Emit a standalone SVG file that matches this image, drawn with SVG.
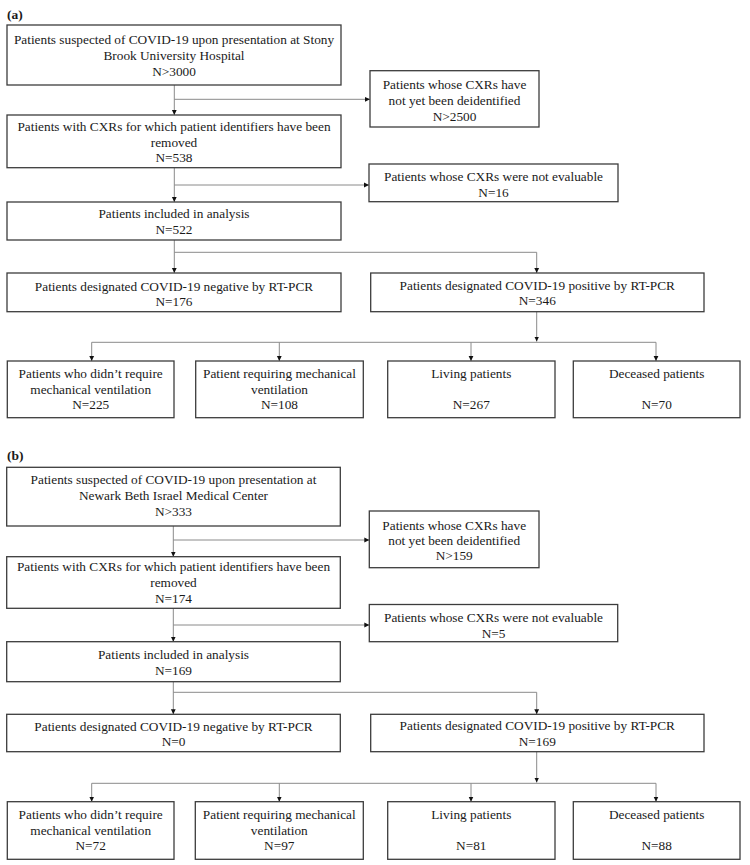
<svg xmlns="http://www.w3.org/2000/svg" width="750" height="865" viewBox="0 0 750 865">
<style>
.bx{fill:#fff;stroke:#3c3c3c;stroke-width:1.3}
.t{font-family:"Liberation Serif","Times New Roman",serif;font-size:13.3px;fill:#1a1a1a;text-anchor:middle}
.h{font-family:"Liberation Serif","Times New Roman",serif;font-size:13.5px;font-weight:bold;fill:#1a1a1a}
.c{fill:none;stroke:#8a8a8a;stroke-width:1}
</style>
<defs>
<marker id="ar" markerUnits="userSpaceOnUse" markerWidth="6" markerHeight="6" refX="5" refY="3" orient="auto">
<path d="M0,0.6 L5,3 L0,5.4 Z" fill="#111"/>
</marker>
</defs>
<rect width="750" height="865" fill="#fff"/>
<text class="h" x="7" y="18.5">(a)</text>
<text class="h" x="7" y="459.5">(b)</text>
<g id="connectors">
<path class="c" d="M174.3,85 V115" marker-end="url(#ar)"/>
<path class="c" d="M174.3,99.3 H370" marker-end="url(#ar)"/>
<path class="c" d="M174.3,167.7 V202" marker-end="url(#ar)"/>
<path class="c" d="M174.3,185 H369" marker-end="url(#ar)"/>
<path class="c" d="M174.3,240 V273" marker-end="url(#ar)"/>
<path class="c" d="M174.3,252.3 H536.7 V273" marker-end="url(#ar)"/>
<path class="c" d="M536.7,311.7 V341.5" marker-end="url(#ar)"/>
<path class="c" d="M91.7,342.3 H656"/>
<path class="c" d="M91.7,342.3 V361" marker-end="url(#ar)"/>
<path class="c" d="M279.3,342.3 V361" marker-end="url(#ar)"/>
<path class="c" d="M471,342.3 V361" marker-end="url(#ar)"/>
<path class="c" d="M656,342.3 V361" marker-end="url(#ar)"/>
<path class="c" d="M173.3,526 V556.7" marker-end="url(#ar)"/>
<path class="c" d="M173.3,540 H369.3" marker-end="url(#ar)"/>
<path class="c" d="M173.3,608.3 V641.7" marker-end="url(#ar)"/>
<path class="c" d="M173.3,625 H369.3" marker-end="url(#ar)"/>
<path class="c" d="M173.3,681.7 V714.3" marker-end="url(#ar)"/>
<path class="c" d="M173.3,692.3 H536.7 V714.3" marker-end="url(#ar)"/>
<path class="c" d="M536.7,751.7 V782.5" marker-end="url(#ar)"/>
<path class="c" d="M91.7,783.3 H656"/>
<path class="c" d="M91.7,783.3 V801.7" marker-end="url(#ar)"/>
<path class="c" d="M279.3,783.3 V801.7" marker-end="url(#ar)"/>
<path class="c" d="M471,783.3 V801.7" marker-end="url(#ar)"/>
<path class="c" d="M656,783.3 V801.7" marker-end="url(#ar)"/>
</g>
<g id="a1"><rect class="bx" x="7" y="25" width="334" height="60"/>
<text class="t" x="174" y="43.5">Patients suspected of COVID-19 upon presentation at Stony</text>
<text class="t" x="174" y="59.5">Brook University Hospital</text>
<text class="t" x="174" y="75.5">N&gt;3000</text></g>
<g id="a_ex1"><rect class="bx" x="370" y="70.7" width="169" height="56.3"/>
<text class="t" x="454.5" y="88.5">Patients whose CXRs have</text>
<text class="t" x="454.5" y="104.5">not yet been deidentified</text>
<text class="t" x="454.5" y="120.5">N&gt;2500</text></g>
<g id="a2"><rect class="bx" x="7" y="115" width="334" height="52.7"/>
<text class="t" x="174" y="131.2">Patients with CXRs for which patient identifiers have been</text>
<text class="t" x="174" y="146.7">removed</text>
<text class="t" x="174" y="162.2">N=538</text></g>
<g id="a_ex2"><rect class="bx" x="369" y="164" width="249" height="37.7"/>
<text class="t" x="493.5" y="181">Patients whose CXRs were not evaluable</text>
<text class="t" x="493.5" y="197">N=16</text></g>
<g id="a3"><rect class="bx" x="7" y="202" width="334" height="38"/>
<text class="t" x="174" y="217.5">Patients included in analysis</text>
<text class="t" x="174" y="233.5">N=522</text></g>
<g id="a4"><rect class="bx" x="7" y="273" width="334" height="38.7"/>
<text class="t" x="174" y="290.5">Patients designated COVID-19 negative by RT-PCR</text>
<text class="t" x="174" y="306">N=176</text></g>
<g id="a5"><rect class="bx" x="370.7" y="273" width="333.3" height="38.7"/>
<text class="t" x="537.3" y="289.5">Patients designated COVID-19 positive by RT-PCR</text>
<text class="t" x="537.3" y="305">N=346</text></g>
<g id="a6"><rect class="bx" x="7.3" y="361" width="166.7" height="56.7"/>
<text class="t" x="90.7" y="378">Patients who didn’t require</text>
<text class="t" x="90.7" y="393.5">mechanical ventilation</text>
<text class="t" x="90.7" y="408.5">N=225</text></g>
<g id="a7"><rect class="bx" x="195.7" y="361" width="167.6" height="56.7"/>
<text class="t" x="279.5" y="378">Patient requiring mechanical</text>
<text class="t" x="279.5" y="393.5">ventilation</text>
<text class="t" x="279.5" y="408.5">N=108</text></g>
<g id="a8"><rect class="bx" x="387.7" y="361" width="167.3" height="56.7"/>
<text class="t" x="471.3" y="377.5">Living patients</text>
<text class="t" x="471.3" y="408.5">N=267</text></g>
<g id="a9"><rect class="bx" x="573.3" y="361" width="166.7" height="56.7"/>
<text class="t" x="656.7" y="377.5">Deceased patients</text>
<text class="t" x="656.7" y="408.5">N=70</text></g>
<g id="b1"><rect class="bx" x="6.7" y="467.3" width="333.6" height="58.7"/>
<text class="t" x="173.5" y="484">Patients suspected of COVID-19 upon presentation at</text>
<text class="t" x="173.5" y="499.5">Newark Beth Israel Medical Center</text>
<text class="t" x="173.5" y="515.5">N&gt;333</text></g>
<g id="b_ex1"><rect class="bx" x="369.3" y="511" width="169.7" height="56.7"/>
<text class="t" x="454.2" y="529.5">Patients whose CXRs have</text>
<text class="t" x="454.2" y="544.5">not yet been deidentified</text>
<text class="t" x="454.2" y="560">N&gt;159</text></g>
<g id="b2"><rect class="bx" x="6.7" y="556.7" width="333.6" height="51.6"/>
<text class="t" x="173.5" y="571">Patients with CXRs for which patient identifiers have been</text>
<text class="t" x="173.5" y="587">removed</text>
<text class="t" x="173.5" y="602.8">N=174</text></g>
<g id="b_ex2"><rect class="bx" x="369.3" y="604.5" width="248.4" height="37.2"/>
<text class="t" x="493.5" y="621.8">Patients whose CXRs were not evaluable</text>
<text class="t" x="493.5" y="637.8">N=5</text></g>
<g id="b3"><rect class="bx" x="6.7" y="641.7" width="333.6" height="40"/>
<text class="t" x="173.5" y="658.5">Patients included in analysis</text>
<text class="t" x="173.5" y="674.5">N=169</text></g>
<g id="b4"><rect class="bx" x="6.7" y="714.3" width="333.6" height="37.4"/>
<text class="t" x="173.5" y="731">Patients designated COVID-19 negative by RT-PCR</text>
<text class="t" x="173.5" y="746">N=0</text></g>
<g id="b5"><rect class="bx" x="370.7" y="714.3" width="333.3" height="37.4"/>
<text class="t" x="537.3" y="730">Patients designated COVID-19 positive by RT-PCR</text>
<text class="t" x="537.3" y="745.5">N=169</text></g>
<g id="b6"><rect class="bx" x="7.3" y="801.7" width="166.7" height="57.6"/>
<text class="t" x="90.7" y="818.5">Patients who didn’t require</text>
<text class="t" x="90.7" y="834.5">mechanical ventilation</text>
<text class="t" x="90.7" y="849.5">N=72</text></g>
<g id="b7"><rect class="bx" x="195.3" y="801.7" width="168" height="57.6"/>
<text class="t" x="279.3" y="818.5">Patient requiring mechanical</text>
<text class="t" x="279.3" y="834.5">ventilation</text>
<text class="t" x="279.3" y="849.5">N=97</text></g>
<g id="b8"><rect class="bx" x="387.7" y="801.7" width="167.3" height="57.6"/>
<text class="t" x="471.3" y="818.5">Living patients</text>
<text class="t" x="471.3" y="849.5">N=81</text></g>
<g id="b9"><rect class="bx" x="573.3" y="801.7" width="166.7" height="57.6"/>
<text class="t" x="656.7" y="818.5">Deceased patients</text>
<text class="t" x="656.7" y="849.5">N=88</text></g>
</svg>
